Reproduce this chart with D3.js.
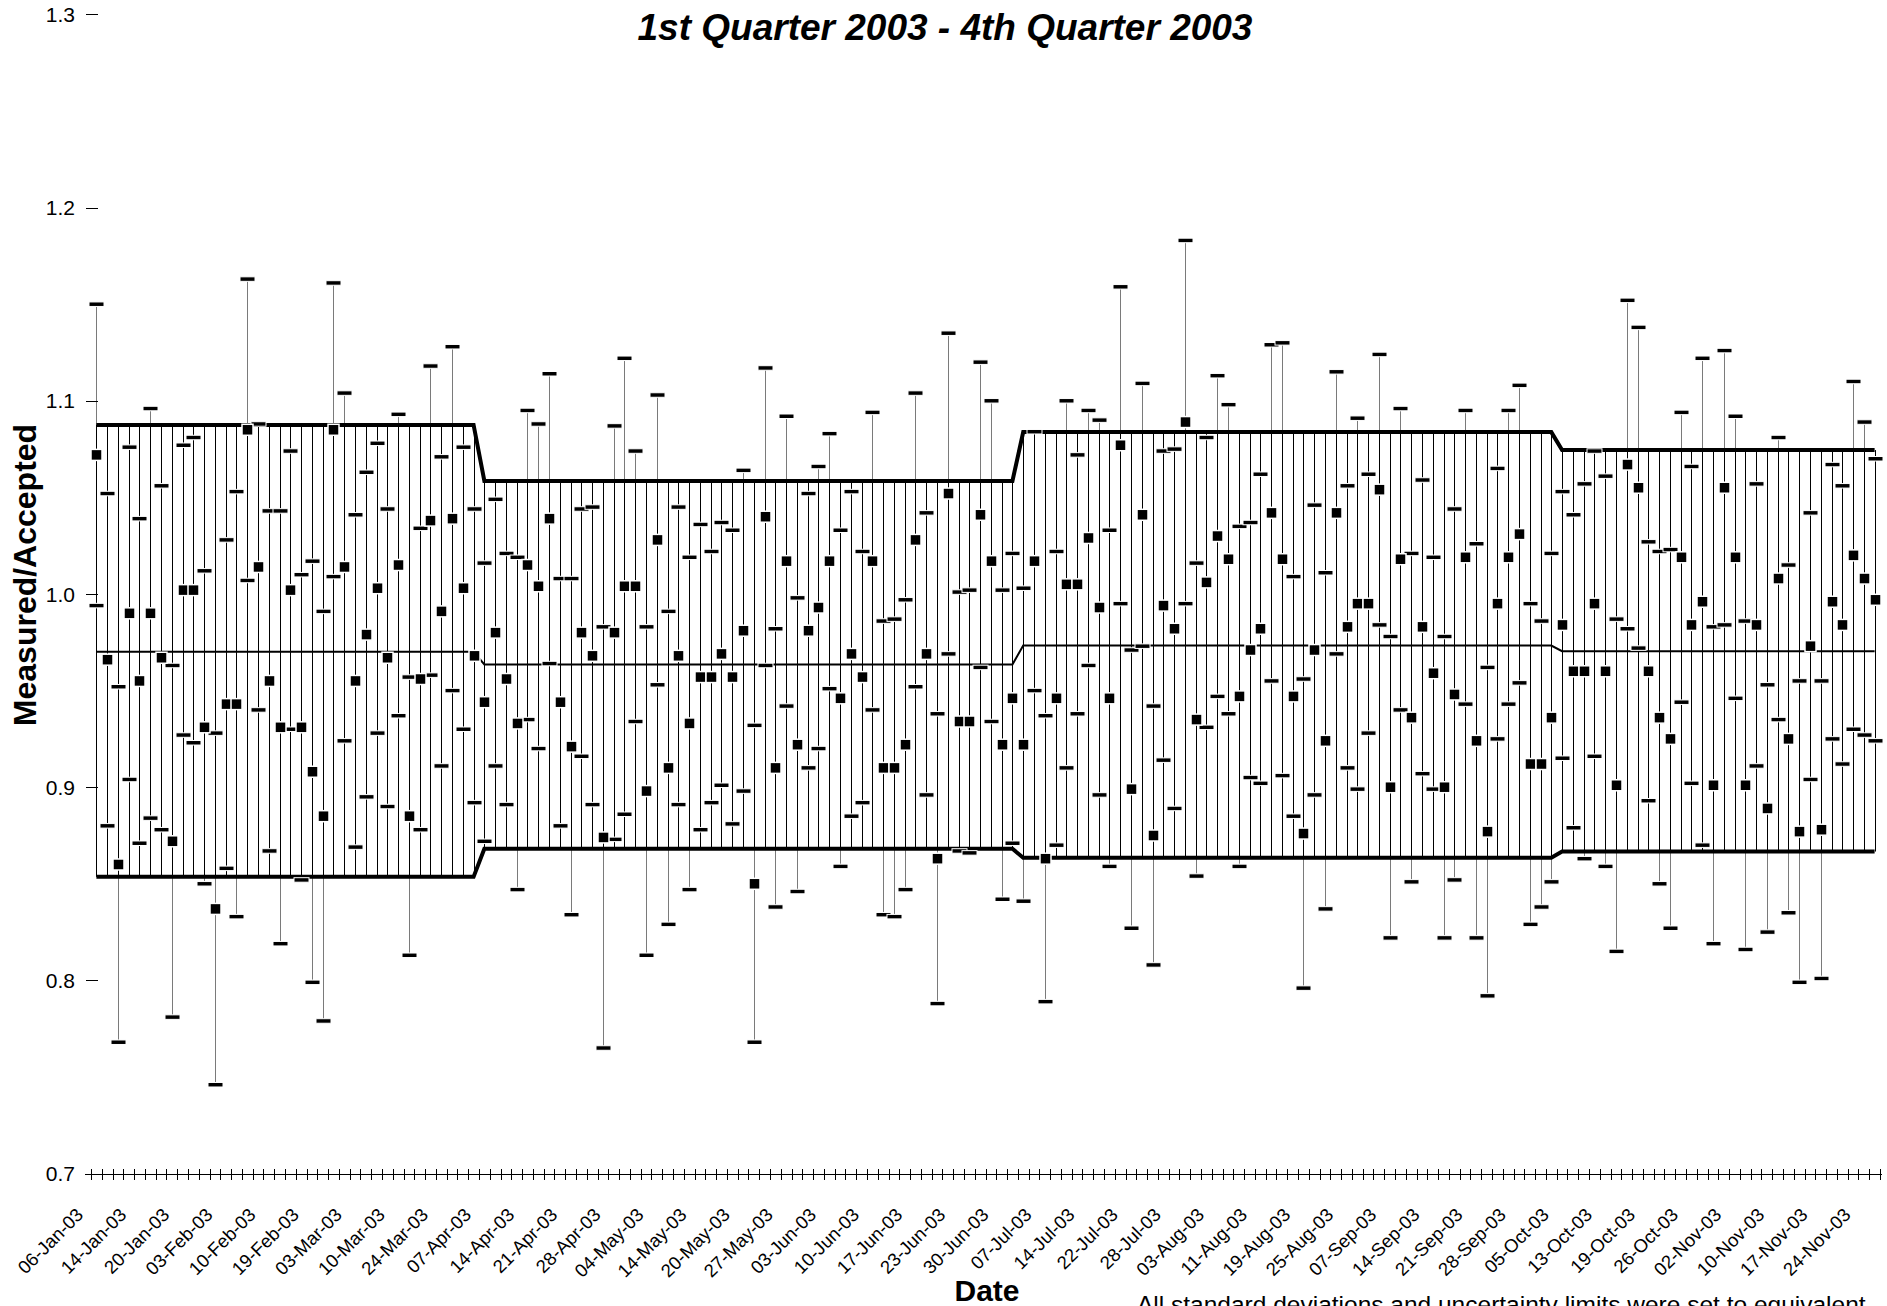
<!DOCTYPE html>
<html>
<head>
<meta charset="utf-8">
<script src="https://cdn.jsdelivr.net/npm/d3@7"></script>
<style>
  body { margin: 0; background: #fff; }
  text { font-family: "Liberation Sans", Arial, sans-serif; fill: #000; }
</style>
</head>
<body>
<div id="my_dataviz"></div>
<script>
// measured/accepted ratio for each date (square markers)
var ratio = [
  1.072, 0.966, 0.860, 0.990, 0.955, 0.990, 0.967, 0.872, 1.002, 1.002,
  0.931, 0.837, 0.943, 0.943, 1.085, 1.014, 0.955, 0.931, 1.002, 0.931,
  0.908, 0.885, 1.085, 1.014, 0.955, 0.979, 1.003, 0.967, 1.015, 0.885,
  0.956, 1.038, 0.991, 1.039, 1.003, 0.968, 0.944, 0.980, 0.956, 0.933,
  1.015, 1.004, 1.039, 0.944, 0.921, 0.980, 0.968, 0.874, 0.980, 1.004,
  1.004, 0.898, 1.028, 0.910, 0.968, 0.933, 0.957, 0.957, 0.969, 0.957,
  0.981, 0.850, 1.040, 0.910, 1.017, 0.922, 0.981, 0.993, 1.017, 0.946,
  0.969, 0.957, 1.017, 0.910, 0.910, 0.922, 1.028, 0.969, 0.863, 1.052,
  0.934, 0.934, 1.041, 1.017, 0.922, 0.946, 0.922, 1.017, 0.863, 0.946,
  1.005, 1.005, 1.029, 0.993, 0.946, 1.077, 0.899, 1.041, 0.875, 0.994,
  0.982, 1.089, 0.935, 1.006, 1.030, 1.018, 0.947, 0.971, 0.982, 1.042,
  1.018, 0.947, 0.876, 0.971, 0.924, 1.042, 0.983, 0.995, 0.995, 1.054,
  0.900, 1.018, 0.936, 0.983, 0.959, 0.900, 0.948, 1.019, 0.924, 0.877,
  0.995, 1.019, 1.031, 0.912, 0.912, 0.936, 0.984, 0.960, 0.960, 0.995,
  0.960, 0.901, 1.067, 1.055, 0.960, 0.936, 0.925, 1.019, 0.984, 0.996,
  0.901, 1.055, 1.019, 0.901, 0.984, 0.889, 1.008, 0.925, 0.877, 0.973,
  0.878, 0.996, 0.984, 1.020, 1.008, 0.997
];

// uncertainty of each ratio (half length of the error bar)
var uncert = [
  0.078, 0.086, 0.092, 0.086, 0.084, 0.106, 0.089, 0.091, 0.075, 0.079,
  0.081, 0.091, 0.085, 0.110, 0.078, 0.074, 0.088, 0.112, 0.072, 0.079,
  0.109, 0.106, 0.076, 0.090, 0.086, 0.084, 0.075, 0.077, 0.078, 0.072,
  0.078, 0.080, 0.080, 0.089, 0.073, 0.076, 0.072, 0.069, 0.065, 0.086,
  0.080, 0.084, 0.075, 0.064, 0.087, 0.064, 0.077, 0.109, 0.107, 0.118,
  0.070, 0.085, 0.075, 0.081, 0.077, 0.086, 0.079, 0.065, 0.068, 0.076,
  0.083, 0.082, 0.077, 0.072, 0.075, 0.076, 0.071, 0.073, 0.066, 0.087,
  0.084, 0.065, 0.077, 0.076, 0.077, 0.075, 0.076, 0.073, 0.075, 0.083,
  0.067, 0.068, 0.079, 0.083, 0.080, 0.075, 0.081, 0.067, 0.074, 0.076,
  0.095, 0.067, 0.066, 0.097, 0.087, 0.082, 0.072, 0.068, 0.067, 0.080,
  0.093, 0.094, 0.081, 0.075, 0.083, 0.080, 0.088, 0.066, 0.080, 0.087,
  0.112, 0.062, 0.080, 0.075, 0.087, 0.073, 0.073, 0.096, 0.067, 0.070,
  0.078, 0.078, 0.085, 0.076, 0.060, 0.078, 0.096, 0.076, 0.102, 0.085,
  0.070, 0.076, 0.077, 0.083, 0.074, 0.085, 0.069, 0.081, 0.097, 0.079,
  0.101, 0.086, 0.085, 0.083, 0.067, 0.086, 0.098, 0.075, 0.082, 0.126,
  0.082, 0.071, 0.073, 0.085, 0.073, 0.064, 0.073, 0.090, 0.078, 0.069,
  0.077, 0.071, 0.072, 0.090, 0.081, 0.073
];

// a label is written under every 4th date
var dateLabels = [
  "06-Jan-03", "14-Jan-03", "20-Jan-03", "03-Feb-03", "10-Feb-03", "19-Feb-03",
  "03-Mar-03", "10-Mar-03", "24-Mar-03", "07-Apr-03", "14-Apr-03", "21-Apr-03",
  "28-Apr-03", "04-May-03", "14-May-03", "20-May-03", "27-May-03", "03-Jun-03",
  "10-Jun-03", "17-Jun-03", "23-Jun-03", "30-Jun-03", "07-Jul-03", "14-Jul-03",
  "22-Jul-03", "28-Jul-03", "03-Aug-03", "11-Aug-03", "19-Aug-03", "25-Aug-03",
  "07-Sep-03", "14-Sep-03", "21-Sep-03", "28-Sep-03", "05-Oct-03", "13-Oct-03",
  "19-Oct-03", "26-Oct-03", "02-Nov-03", "10-Nov-03", "17-Nov-03", "24-Nov-03"
];
var labelEvery = 4;

// control limits for each quarter (first date index of the quarter)
var quarterStart = [0, 36, 86, 136];
var ucl = [1.0875, 1.0585, 1.0838, 1.0745];
var meanLine = [0.9701, 0.9635, 0.9733, 0.9704];
var lcl = [0.8536, 0.8681, 0.8635, 0.8667];

var yTicks = [0.7, 0.8, 0.9, 1.0, 1.1, 1.2, 1.3];

// size of the picture
var width = 1887,
    height = 1306;

var svg = d3.select("#my_dataviz")
    .append("svg")
    .attr("width", width)
    .attr("height", height);

var idx = d3.range(ratio.length);

var x = d3.scaleBand()
    .domain(idx)
    .range([91, 1880]);

// boundaries between dates, for the axis ticks
var xEdge = d3.scaleLinear()
    .domain([0, ratio.length])
    .range([91, 1880]);

var y = d3.scaleLinear()
    .domain([0.7, 1.3])
    .range([1173.6, 14.4]);

// center of a date, put on a pixel so the thin lines stay crisp
function cx(i) {
    return Math.round(x(i) + x.bandwidth() / 2) + 0.5;
}

// which quarter a date belongs to
function quarter(i) {
    var q = 0;
    for (var k = 0; k < quarterStart.length; k++) {
        if (i >= quarterStart[k]) q = k;
    }
    return q;
}

// error bars (grey where they leave the band)
svg.append("g")
    .selectAll("line")
    .data(idx)
    .enter().append("line")
    .attr("x1", cx)
    .attr("x2", cx)
    .attr("y1", function (i) { return y(ratio[i] + uncert[i]); })
    .attr("y2", function (i) { return y(ratio[i] - uncert[i]); })
    .style("stroke", "#7a7a7a")
    .style("stroke-width", 1);

// vertical hatching between upper and lower limits
svg.append("g")
    .selectAll("line")
    .data(idx)
    .enter().append("line")
    .attr("x1", cx)
    .attr("x2", cx)
    .attr("y1", function (i) { return y(ucl[quarter(i)]); })
    .attr("y2", function (i) { return y(lcl[quarter(i)]); })
    .style("stroke", "#000")
    .style("stroke-width", 1);

// limit lines and the mean line
var limits = [
    {vals: ucl, w: 4},
    {vals: meanLine, w: 2},
    {vals: lcl, w: 4}
];
limits.forEach(function (l) {
    var line = d3.line()
        .x(function (i) { return x(i) + x.bandwidth() / 2; })
        .y(function (i) { return y(l.vals[quarter(i)]); });
    svg.append("path")
        .datum(idx)
        .attr("d", line)
        .style("fill", "none")
        .style("stroke", "#000")
        .style("stroke-width", l.w)
        .style("stroke-linejoin", "miter");
});

// caps of the error bars
var caps = svg.append("g");
[1, -1].forEach(function (s) {
    caps.selectAll(null)
        .data(idx)
        .enter().append("rect")
        .attr("x", function (i) { return cx(i) - 7.5; })
        .attr("y", function (i) { return y(ratio[i] + s * uncert[i]) - 2.25; })
        .attr("width", 15)
        .attr("height", 4.5)
        .style("fill", "#000")
        .style("stroke", "#fff")
        .style("stroke-width", 1);
});

// ratio markers
svg.append("g")
    .selectAll("rect")
    .data(idx)
    .enter().append("rect")
    .attr("x", function (i) { return cx(i) - 5.5; })
    .attr("y", function (i) { return y(ratio[i]) - 5.5; })
    .attr("width", 11)
    .attr("height", 11)
    .style("fill", "#000")
    .style("stroke", "#fff")
    .style("stroke-width", 1.5);

// y axis: short ticks and numbers, no axis line
var yAxis = svg.append("g");
yAxis.selectAll("line")
    .data(yTicks)
    .enter().append("line")
    .attr("x1", 86)
    .attr("x2", 98)
    .attr("y1", function (d) { return Math.round(y(d)) + 0.5; })
    .attr("y2", function (d) { return Math.round(y(d)) + 0.5; })
    .style("stroke", "#000");
yAxis.selectAll("text")
    .data(yTicks)
    .enter().append("text")
    .attr("x", 75)
    .attr("y", function (d) { return y(d); })
    .attr("dy", "0.36em")
    .style("text-anchor", "end")
    .style("font-size", "21px")
    .text(function (d) { return d3.format(".1f")(d); });

// x axis with ticks crossing the line
var y0 = Math.round(y(0.7)) + 0.5;
svg.append("line")
    .attr("x1", 85)
    .attr("x2", 1882)
    .attr("y1", y0)
    .attr("y2", y0)
    .style("stroke", "#000");
svg.append("g")
    .selectAll("line")
    .data(d3.range(ratio.length + 1))
    .enter().append("line")
    .attr("x1", function (d) { return Math.round(xEdge(d)) + 0.5; })
    .attr("x2", function (d) { return Math.round(xEdge(d)) + 0.5; })
    .attr("y1", y0 - 5.5)
    .attr("y2", y0 + 5.5)
    .style("stroke", "#000");

// date labels, turned 45 degrees
svg.append("g")
    .selectAll("text")
    .data(dateLabels)
    .enter().append("text")
    .attr("transform", function (d, k) {
        var px = x(k * labelEvery) + x.bandwidth() / 2 - 12;
        return "translate(" + px + ",1216) rotate(-45)";
    })
    .style("text-anchor", "end")
    .style("font-size", "18.5px")
    .text(function (d) { return d; });

// titles
svg.append("text")
    .attr("x", 945)
    .attr("y", 40)
    .style("text-anchor", "middle")
    .style("font-size", "37px")
    .style("font-weight", "bold")
    .style("font-style", "italic")
    .text("1st Quarter 2003 - 4th Quarter 2003");

svg.append("text")
    .attr("x", 987)
    .attr("y", 1301)
    .style("text-anchor", "middle")
    .style("font-size", "30px")
    .style("font-weight", "bold")
    .text("Date");

svg.append("text")
    .attr("transform", "translate(36,575) rotate(-90)")
    .style("text-anchor", "middle")
    .style("font-size", "32px")
    .style("font-weight", "bold")
    .text("Measured/Accepted");

// note at the bottom, cut by the edge of the picture as in the original
svg.append("text")
    .attr("x", 1137)
    .attr("y", 1313)
    .style("font-size", "24.5px")
    .text("All standard deviations and uncertainty limits were set to equivalent");
</script>
</body>
</html>
